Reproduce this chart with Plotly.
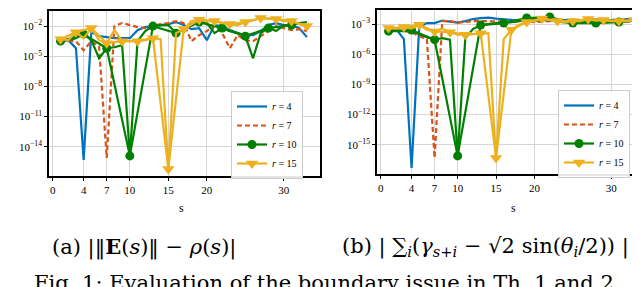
import plotly.graph_objects as go

# ---------------- data (log10 of the plotted values) ----------------
s = list(range(1, 34))

# panel (a): | ||E(s)|| - rho(s) |
a_r4 = [-3.4, -3.4, -4.2, -15.3, -2.6, -3.0, -3.1, -3.2, -3.2, -3.2, -2.4, -2.1, -2.0, -1.9, -1.8, -1.6, -1.9,
        -2.3, -2.2, -3.4, -1.9, -2.0, -2.4, -2.7, -2.9, -2.9, -2.5, -1.9, -1.7, -1.9, -1.9, -2.2, -3.1]
a_r7 = [-3.4, -3.5, -3.5, -4.4, -3.5, -4.0, -15.1, -2.0, -1.7, -1.9, -2.1, -2.2, -2.0, -1.8, -1.7, -1.5, -1.7,
        -3.5, -2.9, -2.5, -1.9, -2.7, -4.2, -2.9, -3.4, -3.5, -3.0, -2.5, -2.0, -2.2, -2.4, -2.3, -2.5]
a_r10 = [-3.5, -3.4, -3.2, -2.8, -3.4, -5.2, -4.2, -4.1, -3.9, -14.9, -3.5, -2.5, -2.0, -1.9, -1.9, -2.7, -2.3,
         -1.8, -1.6, -1.7, -2.7, -2.2, -2.5, -2.7, -3.0, -5.2, -2.7, -2.2, -2.5, -1.9, -1.9, -1.7, -1.6]
a_r15 = [-3.3, -3.4, -2.6, -3.2, -2.2, -3.4, -3.7, -2.4, -3.5, -3.5, -3.5, -3.4, -3.2, -3.3, -16.2, -2.7, -2.3,
         -1.5, -1.37, -1.53, -1.5, -1.7, -1.8, -1.9, -1.6, -1.4, -1.2, -1.25, -1.3, -1.5, -1.5, -1.8, -2.0]

# panel (b): | sum_i (gamma_{s+i} - sqrt2 sin(theta_i/2)) |
b_r4 = [-3.5, -3.5, -4.5, -17.3, -3.3, -2.9, -2.9, -2.65, -2.75, -2.85, -2.7, -2.5, -2.4, -2.35, -2.45, -2.5, -2.6,
        -2.65, -2.6, -2.7, -2.6, -2.6, -2.65, -2.6, -2.65, -2.6, -2.6, -2.55, -2.6, -2.6, -2.55, -2.5, -2.55]
b_r7 = [-3.5, -3.6, -3.7, -3.8, -4.2, -4.5, -16.3, -2.7, -2.7, -2.85, -2.8, -2.7, -2.7, -2.7, -2.75, -2.75, -2.8,
        -2.7, -2.75, -2.8, -2.75, -2.7, -2.75, -2.8, -2.8, -2.75, -2.7, -2.75, -2.8, -2.75, -2.7, -2.75, -2.7]
b_r10 = [-3.7, -3.73, -3.7, -3.6, -4.0, -4.3, -4.55, -4.4, -4.55, -16.1, -4.4, -3.5, -3.1, -3.0, -2.9, -2.9, -2.8,
         -2.7, -2.4, -2.6, -2.6, -2.3, -2.75, -2.8, -2.9, -2.75, -2.7, -2.9, -2.75, -2.75, -2.8, -2.75, -2.6]
b_r15 = [-3.4, -3.45, -3.3, -3.45, -3.07, -3.56, -3.73, -3.45, -3.8, -4.06, -4.06, -4.0, -3.9, -3.9, -16.3, -4.5,
         -3.56, -3.07, -2.8, -2.7, -2.45, -2.6, -2.7, -2.8, -2.7, -2.7, -2.5, -2.65, -2.6, -2.7, -2.7, -2.7, -2.6]

x_ticks = [0, 4, 7, 10, 15, 20, 30]
a_yexp = [-2, -5, -8, -11, -14]
b_yexp = [-3, -6, -9, -12, -15]
labels = ["<i>r</i> = 4", "<i>r</i> = 7", "<i>r</i> = 10", "<i>r</i> = 15"]
caption_a = "(a) |‖<b>E</b>(<i>s</i>)‖ − <i>ρ</i>(<i>s</i>)|"
caption_b = ("(b) | ∑<sub><i>i</i></sub>(<i>γ</i><sub><i>s</i>+<i>i</i></sub> − "
             "√2 sin(<i>θ</i><sub><i>i</i></sub>/2)) |")
fig_caption = "Fig. 1: Evaluation of the boundary issue in Th. 1 and 2"

# ---------------- styling ----------------
W, H = 640, 287
BLUE, ORANGE, GREEN, YELLOW = "#0072BD", "#D95319", "#008000", "#EDB120"
FONT = "Liberation Serif"
CAPFONT = "DejaVu Serif"
LW = 2.2

def p10(v):
    return [10 ** e for e in v]

fig = go.Figure()

def add_panel(xa, ya, leg, r4, r7, r10, r15):
    common = dict(xaxis=xa, yaxis=ya, legend=leg)
    fig.add_trace(go.Scatter(x=s, y=p10(r4), mode="lines", name=labels[0],
                             line=dict(color=BLUE, width=LW), **common))
    fig.add_trace(go.Scatter(x=s, y=p10(r7), mode="lines", name=labels[1],
                             line=dict(color=ORANGE, width=LW, dash="5px,3px"), **common))
    # r = 10: full line + every-third point with markers
    fig.add_trace(go.Scatter(x=s, y=p10(r10), mode="lines", showlegend=False,
                             line=dict(color=GREEN, width=LW), **common))
    fig.add_trace(go.Scatter(x=s[::3], y=p10(r10[::3]), mode="lines+markers", name=labels[2],
                             line=dict(color=GREEN, width=LW),
                             marker=dict(symbol="circle", size=9, color=GREEN), **common))
    # r = 15: full line + every-second point with markers
    fig.add_trace(go.Scatter(x=s, y=p10(r15), mode="lines", showlegend=False,
                             line=dict(color=YELLOW, width=LW), **common))
    fig.add_trace(go.Scatter(x=s[::2], y=p10(r15[::2]), mode="lines+markers", name=labels[3],
                             line=dict(color=YELLOW, width=LW),
                             marker=dict(symbol="triangle-down", size=11, color=YELLOW), **common))

add_panel("x", "y", "legend", a_r4, a_r7, a_r10, a_r15)
add_panel("x2", "y2", "legend2", b_r4, b_r7, b_r10, b_r15)

def px_x(p):
    return p / W

def px_y(p):
    return 1 - p / H

axis_common = dict(showline=True, linecolor="black", linewidth=1.5, mirror=True,
                   showgrid=True, gridcolor="#d6d6d6", gridwidth=1, zeroline=False,
                   ticks="outside", ticklen=3, tickcolor="black", tickwidth=1,
                   tickfont=dict(family=FONT, size=11, color="black"))

sup = lambda e: "10<sup>−%d</sup>" % (-e)

legend_common = dict(xanchor="left", yanchor="top", bgcolor="rgba(255,255,255,0.9)",
                     bordercolor="#cccccc", borderwidth=1, itemwidth=30,
                     font=dict(family=FONT, size=10), tracegroupgap=0)

fig.update_layout(
    width=W, height=H, margin=dict(l=0, r=0, t=0, b=0),
    paper_bgcolor="white", plot_bgcolor="white",
    font=dict(family=FONT, color="black"),
    xaxis=dict(domain=[px_x(41), px_x(312)], range=[-0.5, 34.7], tickvals=x_ticks,
               anchor="y", **axis_common),
    yaxis=dict(domain=[px_y(168), px_y(3)], type="log", range=[-16.9, -0.5],
               tickvals=[10 ** e for e in a_yexp], ticktext=[sup(e) for e in a_yexp],
               anchor="x", **axis_common),
    xaxis2=dict(domain=[px_x(369), px_x(637)], range=[-0.5, 34.4], tickvals=x_ticks,
                anchor="y2", **axis_common),
    yaxis2=dict(domain=[px_y(166), px_y(2)], type="log", range=[-17.9, -1.6],
                tickvals=[10 ** e for e in b_yexp], ticktext=[sup(e) for e in b_yexp],
                anchor="x2", **axis_common),
    legend=dict(x=px_x(223), y=px_y(83), **legend_common),
    legend2=dict(x=px_x(550), y=px_y(82), **legend_common),
)

for xs in (173, 505):
    fig.add_annotation(xref="paper", yref="paper", x=px_x(xs), y=px_y(200), text="s",
                       showarrow=False, xanchor="center", yanchor="middle",
                       font=dict(family=FONT, size=12, color="black"))

fig.add_annotation(xref="paper", yref="paper", x=px_x(136), y=px_y(239), text=caption_a,
                   showarrow=False, xanchor="center", yanchor="middle",
                   font=dict(family=CAPFONT, size=21, color="black"))
fig.add_annotation(xref="paper", yref="paper", x=px_x(477), y=px_y(239), text=caption_b,
                   showarrow=False, xanchor="center", yanchor="middle",
                   font=dict(family=CAPFONT, size=21, color="black"))
fig.add_annotation(xref="paper", yref="paper", x=px_x(24), y=px_y(261), text=fig_caption,
                   showarrow=False, xanchor="left", yanchor="top",
                   font=dict(family=CAPFONT, size=21, color="black"))

fig.write_html("out.html")
